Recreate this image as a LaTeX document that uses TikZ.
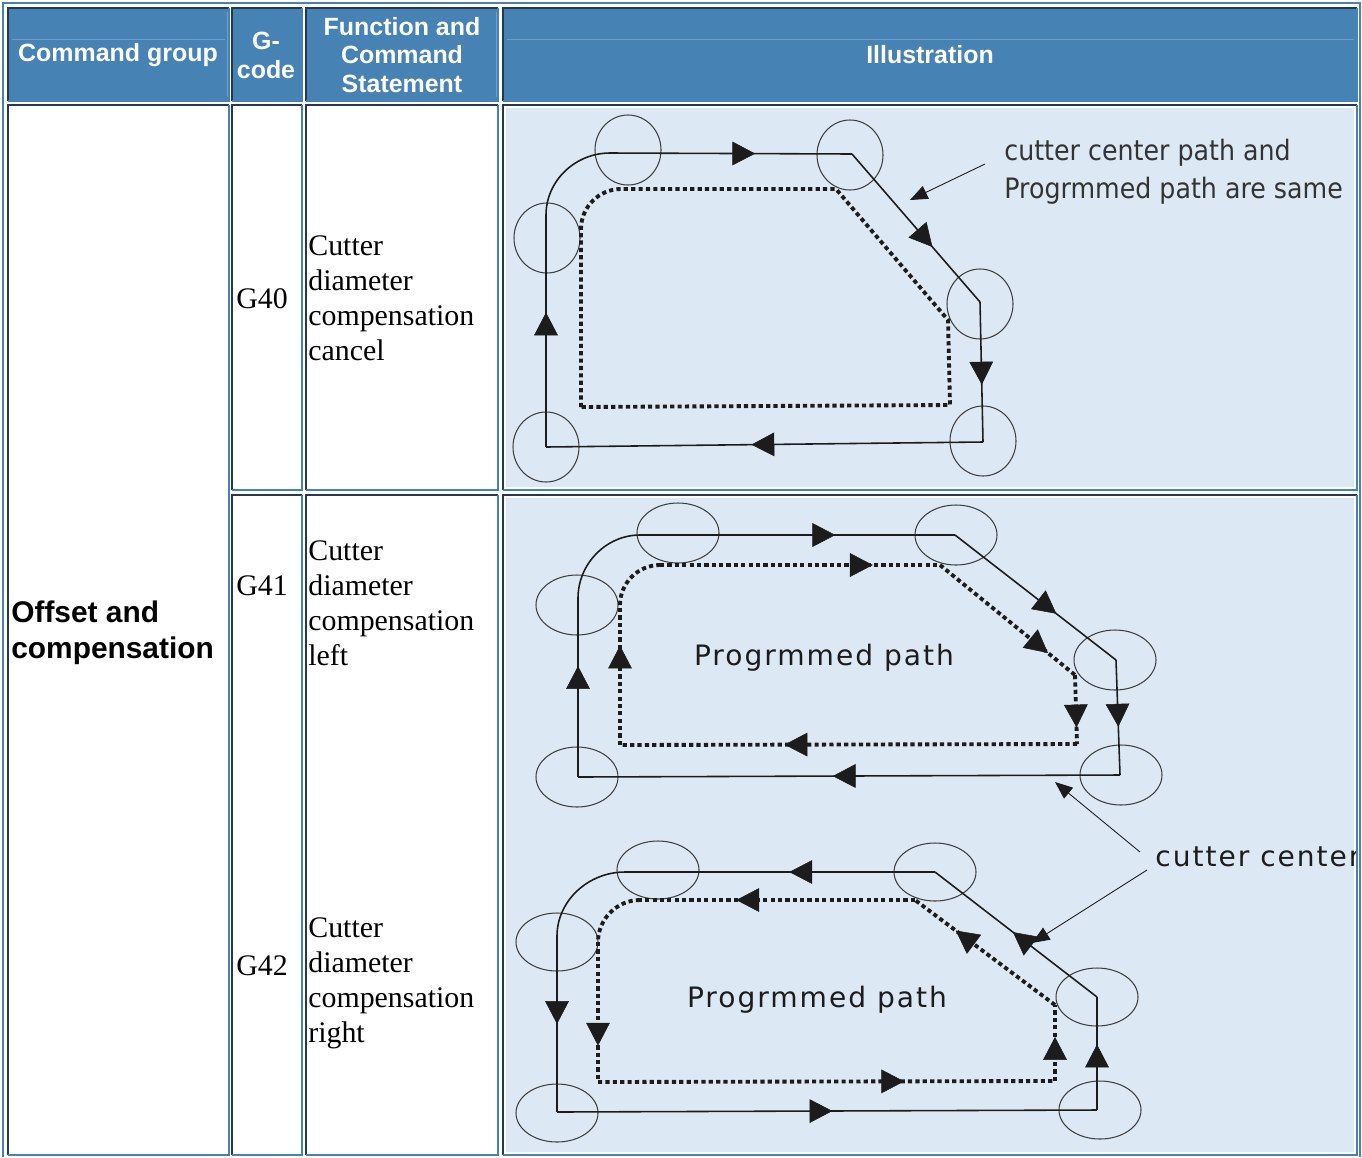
\documentclass[tikz,border=0pt]{standalone}
\usepackage{fontspec}
\setmainfont{Liberation Serif}
\setsansfont{Liberation Sans}
\newfontfamily\notefont[FakeStretch=0.9]{DejaVu Sans}
\newfontfamily\pathfont[LetterSpace=7]{DejaVu Sans}
\usetikzlibrary{arrows.meta,decorations.markings,positioning}
\definecolor{hdrblue}{RGB}{70,130,180}
\definecolor{hdrline}{RGB}{112,158,202}
\definecolor{celldark}{RGB}{36,56,80}
\definecolor{illbg}{RGB}{220,233,245}
\definecolor{ink}{RGB}{28,28,28}

\tikzset{
  hdr/.style={text=white, font=\sffamily\bfseries\fontsize{14.2}{16.4}\selectfont, align=center, inner sep=0pt},
  group/.style={font=\sffamily\bfseries\fontsize{17}{20.4}\selectfont, align=left, inner sep=0pt, anchor=west},
  body/.style={font=\fontsize{17}{19.9}\selectfont, align=left, inner sep=0pt, anchor=west},
  note/.style={text=ink!90, font=\notefont\fontsize{16}{21.5}\selectfont, align=left, inner sep=0pt, anchor=west},
  pathlbl/.style={text=ink, font=\pathfont\fontsize{16}{19}\selectfont, inner sep=0pt},
  edgedark/.style={draw=celldark, line width=1.2pt},
  edgeblue/.style={draw=hdrblue, line width=1.2pt},
  cutter/.style={draw=ink!85, line width=0.6pt},
  toolpath/.style={draw=ink, line width=0.9pt},
  progpath/.style={draw=ink, line width=2.2pt, dash pattern=on 2.4pt off 1.8pt},
  hint/.style={draw=ink, line width=0.5pt, -{Triangle[length=10pt,width=8pt]}},
  mid arrow/.style={postaction={decorate}, decoration={markings,
    mark=at position #1 with {\arrow{Triangle[length=13pt,width=13.5pt,line width=0.3pt]}}}}
}

\begin{document}
\begin{tikzpicture}[x=0.02cm, y=-0.02cm]
  \useasboundingbox (0,0) rectangle (1362,1157);
  \fill[white] (0,0) rectangle (1362,1157);

  % table frame and cells
  \draw[edgeblue] (3,1157) -- (3,3) -- (1360,3) -- (1360,1157);
  \foreach \xa/\xb in {8/229, 232/302, 306/498, 503/1357}{
    \fill[hdrblue] (\xa,8) rectangle (\xb,101);
  }
  \draw[hdrline] (12,39) -- (225,39);
  \draw[hdrline] (227,12) -- (227,97);
  \draw[hdrline] (496,12) -- (496,97);
  \draw[hdrline] (507,39) -- (1354,39);
  \fill[illbg] (506,108) rectangle (1354,487);
  \fill[illbg] (506,498) rectangle (1354,1152);
  \foreach \xa/\ya/\xb/\yb in {8/8/229/101, 232/8/302/101, 306/8/498/101, 503/8/1357/101,
      8/105/229/1155, 232/105/302/490, 306/105/498/490, 503/105/1357/490,
      232/495/302/1155, 306/495/498/1155, 503/495/1357/1155}{
    \draw[edgedark] (\xa,\yb) |- (\xb,\ya);
    \draw[edgeblue] (\xb,\ya) |- (\xa,\yb);
  }

  % header
  \node[hdr] (hgroup) at (118,55) {Command group};
  \node[hdr] (hcode) at (266,55) {G-\\code};
  \node[hdr] (hfunc) at (402,55) {Function and\\Command\\Statement};
  \node[hdr] (hill) at (930,55) {Illustration};

  % body text
  \node[group] (group) at (11,633) {Offset and\\compensation};
  \node[body] (g40) at (236,299) {G40};
  \node[body] (f40) at (308,298) {Cutter\\diameter\\compensation\\cancel};
  \node[body] (g41) at (236,586) {G41};
  \node[body] (f41) at (308,603) {Cutter\\diameter\\compensation\\left};
  \node[body] (g42) at (236,966) {G42};
  \node[body] (f42) at (308,983) {Cutter\\diameter\\compensation\\right};

  % G40: cutter path = programmed path
  \foreach \cx/\cy in {628/150, 547/238, 546/447, 850/155, 980/304, 983/441}
    \draw[cutter] (\cx,\cy) ellipse [x radius=33, y radius=35];
  \coordinate (a1) at (546,447);
  \coordinate (a2) at (546,215);
  \coordinate (a3) at (610,153);
  \coordinate (a4) at (852,154);
  \coordinate (a5) at (980,302);
  \coordinate (a6) at (983,442);
  \draw[toolpath, mid arrow=0.58] (a1) -- (a2);
  \draw[toolpath] (a2) .. controls +(0,-34) and +(-35,0) .. (a3);
  \draw[toolpath, mid arrow=0.6] (a3) -- (a4);
  \draw[toolpath, mid arrow=0.63] (a4) -- (a5);
  \draw[toolpath, mid arrow=0.59] (a5) -- (a6);
  \draw[toolpath, mid arrow=0.53] (a6) -- (a1);
  \coordinate (b1) at (581,407);
  \coordinate (b2) at (581,229);
  \coordinate (b3) at (621,189);
  \coordinate (b4) at (836,189);
  \coordinate (b5) at (948,320);
  \coordinate (b6) at (950,405);
  \draw[progpath] (b1) -- (b2) .. controls +(0,-22) and +(-22,0) .. (b3) -- (b4) -- (b5) -- (b6) -- cycle;
  \node[note] (same) at (1004,172) {cutter center path and\\Progrmmed path are same};
  \coordinate (sametail) at (985,164);
  \coordinate (samehead) at (910,200);
  \draw[hint] (sametail) -- (samehead);

  \begin{scope}
    \clip (503,495) rectangle (1355,1155);
    % G41: left compensation
    \foreach \cx/\cy in {678/533, 577/605, 577/777, 956/535, 1115/660, 1121/775}
      \draw[cutter] (\cx,\cy) ellipse [x radius=41, y radius=30];
    \coordinate (c1) at (578,777);
    \coordinate (c2) at (578,598);
    \coordinate (c3) at (640,535);
    \coordinate (c4) at (955,535);
    \coordinate (c5) at (1116,660);
    \coordinate (c6) at (1120,775);
    \draw[toolpath, mid arrow=0.62] (c1) -- (c2);
    \draw[toolpath] (c2) .. controls +(0,-34) and +(-34,0) .. (c3);
    \draw[toolpath, mid arrow=0.62] (c3) -- (c4);
    \draw[toolpath, mid arrow=0.63] (c4) -- (c5);
    \draw[toolpath, mid arrow=0.58] (c5) -- (c6);
    \draw[toolpath, mid arrow=0.53] (c6) -- (c1);
    \coordinate (d1) at (620,745);
    \coordinate (d2) at (620,605);
    \coordinate (d3) at (660,565);
    \coordinate (d4) at (940,565);
    \coordinate (d5) at (1075,675);
    \coordinate (d6) at (1077,744);
    \draw[progpath, mid arrow=0.71] (d1) -- (d2);
    \draw[progpath] (d2) .. controls +(0,-22) and +(-22,0) .. (d3);
    \draw[progpath, mid arrow=0.76] (d3) -- (d4);
    \draw[progpath, mid arrow=0.8] (d4) -- (d5);
    \draw[progpath, mid arrow=0.76] (d5) -- (d6);
    \draw[progpath, mid arrow=0.64] (d6) -- (d1);
    \node[pathlbl] (prog41) at (824,658) {Progrmmed path};

    % G42: right compensation
    \foreach \cx/\cy in {658/870, 557/942, 557/1113, 935/872, 1097/997, 1100/1110}
      \draw[cutter] (\cx,\cy) ellipse [x radius=41, y radius=29];
    \coordinate (e1) at (935,872);
    \coordinate (e2) at (625,872);
    \coordinate (e3) at (557,936);
    \coordinate (e4) at (557,1112);
    \coordinate (e5) at (1097,1110);
    \coordinate (e6) at (1097,997);
    \draw[toolpath, mid arrow=0.47] (e1) -- (e2);
    \draw[toolpath] (e2) .. controls +(-37,0) and +(0,-35) .. (e3);
    \draw[toolpath, mid arrow=0.5] (e3) -- (e4);
    \draw[toolpath, mid arrow=0.51] (e4) -- (e5);
    \draw[toolpath, mid arrow=0.58] (e5) -- (e6);
    \draw[toolpath, mid arrow=0.52] (e6) -- (e1);
    \coordinate (f1) at (915,900);
    \coordinate (f2) at (640,900);
    \coordinate (f3) at (598,942);
    \coordinate (f4) at (598,1082);
    \coordinate (f5) at (1055,1081);
    \coordinate (f6) at (1055,1005);
    \draw[progpath, mid arrow=0.65] (f1) -- (f2);
    \draw[progpath] (f2) .. controls +(-23,0) and +(0,-23) .. (f3);
    \draw[progpath, mid arrow=0.74] (f3) -- (f4);
    \draw[progpath, mid arrow=0.67] (f4) -- (f5);
    \draw[progpath, mid arrow=0.58] (f5) -- (f6);
    \draw[progpath, mid arrow=0.71] (f6) -- (f1);
    \node[pathlbl] (prog42) at (817,1000) {Progrmmed path};

    % cutter center callout
    \node[pathlbl, anchor=west] (center) at (1155,857) {cutter center};
    \coordinate (centertail1) at (1140,852);
    \coordinate (centerhead1) at (1055,782);
    \coordinate (centertail2) at (1147,870);
    \coordinate (centerhead2) at (1032,943);
    \draw[hint] (centertail1) -- (centerhead1);
    \draw[hint] (centertail2) -- (centerhead2);
  \end{scope}
\end{tikzpicture}
\end{document}
